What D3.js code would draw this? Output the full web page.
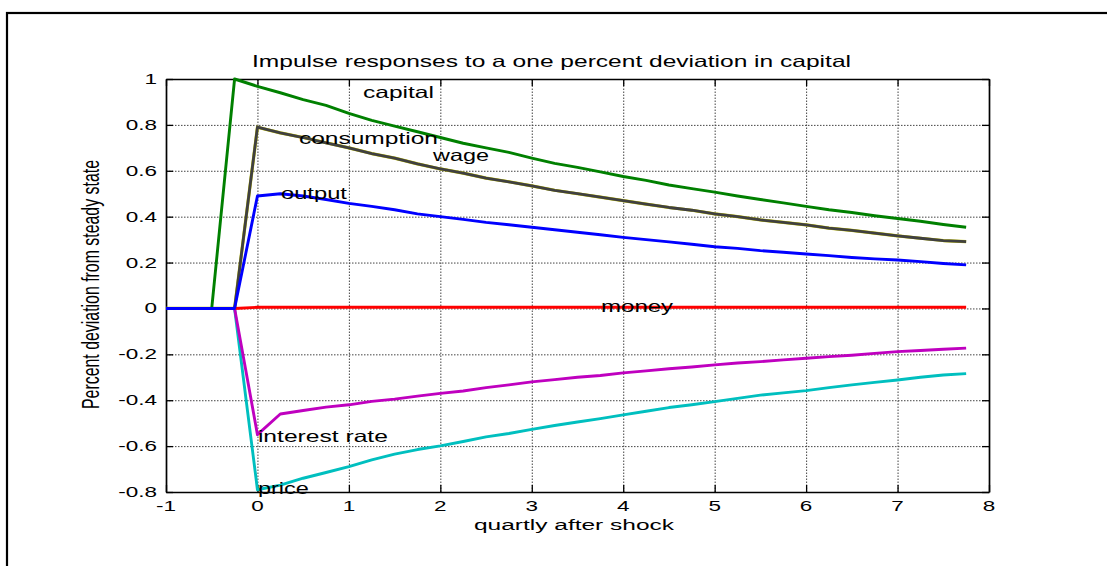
<!DOCTYPE html>
<html>
<head>
<meta charset="utf-8">
<script src="https://cdn.jsdelivr.net/npm/d3@7"></script>
<style>
  html, body { margin: 0; padding: 0; background: #fff; }
  svg { display: block; }
  text { font-family: "Liberation Sans", Arial, Helvetica, sans-serif; fill: #000; }
</style>
</head>
<body>
<svg id="chart" width="1107" height="566"></svg>
<script>
// Quarters after the shock
const quarters = [-1, -0.75, -0.5, -0.25, 0, 0.25, 0.5, 0.75, 1, 1.25, 1.5, 1.75,
  2, 2.25, 2.5, 2.75, 3, 3.25, 3.5, 3.75, 4, 4.25, 4.5, 4.75,
  5, 5.25, 5.5, 5.75, 6, 6.25, 6.5, 6.75, 7, 7.25, 7.5, 7.75];

// Responses, percent deviation from steady state
const capital = [0, 0, 0, 1.0, 0.968, 0.94, 0.91, 0.885, 0.85, 0.82, 0.795, 0.77,
  0.745, 0.72, 0.70, 0.68, 0.655, 0.632, 0.615, 0.595, 0.575, 0.558, 0.538, 0.522,
  0.507, 0.49, 0.475, 0.46, 0.445, 0.43, 0.418, 0.404, 0.392, 0.38, 0.366, 0.354];

const consumption = [0, 0, 0, 0, 0.79, 0.765, 0.745, 0.722, 0.70, 0.675, 0.655, 0.63,
  0.608, 0.59, 0.568, 0.552, 0.534, 0.515, 0.50, 0.485, 0.47, 0.455, 0.44, 0.428,
  0.412, 0.40, 0.386, 0.375, 0.364, 0.35, 0.34, 0.328, 0.316, 0.306, 0.296, 0.291];

const wage = [0, 0, 0, 0, 0.79, 0.765, 0.745, 0.722, 0.70, 0.675, 0.655, 0.63,
  0.608, 0.59, 0.568, 0.552, 0.534, 0.515, 0.50, 0.485, 0.47, 0.455, 0.44, 0.428,
  0.412, 0.40, 0.386, 0.375, 0.364, 0.35, 0.34, 0.328, 0.316, 0.306, 0.296, 0.291];

const output = [0, 0, 0, 0, 0.49, 0.50, 0.49, 0.475, 0.458, 0.445, 0.43, 0.412,
  0.40, 0.388, 0.375, 0.365, 0.354, 0.343, 0.332, 0.321, 0.31, 0.30, 0.29, 0.28,
  0.269, 0.262, 0.252, 0.245, 0.237, 0.23, 0.222, 0.216, 0.211, 0.204, 0.196, 0.19];

const money = [0, 0, 0, 0, 0.005, 0.005, 0.005, 0.005, 0.005, 0.005, 0.005, 0.005,
  0.005, 0.005, 0.005, 0.005, 0.005, 0.005, 0.005, 0.005, 0.005, 0.005, 0.005, 0.005,
  0.005, 0.005, 0.005, 0.005, 0.005, 0.005, 0.005, 0.005, 0.005, 0.005, 0.005, 0.005];

const interestRate = [0, 0, 0, 0, -0.55, -0.46, -0.445, -0.43, -0.42, -0.405, -0.395, -0.382,
  -0.37, -0.36, -0.345, -0.333, -0.32, -0.31, -0.30, -0.292, -0.281, -0.272, -0.263, -0.255,
  -0.246, -0.238, -0.232, -0.224, -0.217, -0.21, -0.204, -0.196, -0.188, -0.183, -0.178, -0.173];

const price = [0, 0, 0, 0, -0.79, -0.77, -0.74, -0.715, -0.689, -0.66, -0.635, -0.615,
  -0.599, -0.58, -0.56, -0.545, -0.527, -0.51, -0.495, -0.48, -0.464, -0.448, -0.432, -0.42,
  -0.406, -0.392, -0.378, -0.368, -0.358, -0.345, -0.333, -0.322, -0.312, -0.30, -0.29, -0.284];

// Axis ticks
const xTicks = [-1, 0, 1, 2, 3, 4, 5, 6, 7, 8];
const xTickLabels = ["-1", "0", "1", "2", "3", "4", "5", "6", "7", "8"];
const yTicks = [-0.8, -0.6, -0.4, -0.2, 0, 0.2, 0.4, 0.6, 0.8, 1];
const yTickLabels = ["-0.8", "-0.6", "-0.4", "-0.2", "0", "0.2", "0.4", "0.6", "0.8", "1"];

// Series in drawing order (last on top)
const series = [
  { name: "wage", values: wage, color: "#bfbf00", width: 3.2 },
  { name: "consumption", values: consumption, color: "#404040", width: 2.8 },
  { name: "capital", values: capital, color: "#008000", width: 2.9 },
  { name: "price", values: price, color: "#00bfbf", width: 2.9 },
  { name: "interest rate", values: interestRate, color: "#bf00bf", width: 2.9 },
  { name: "money", values: money, color: "#ff0000", width: 2.9 },
  { name: "output", values: output, color: "#0000ff", width: 2.9 }
];

// In-plot text annotations: left edge and baseline in data units, rendered width in px
const annotations = [
  { text: "capital", t: 1.154, v: 0.917, w: 71 },
  { text: "consumption", t: 0.454, v: 0.717, w: 139 },
  { text: "wage", t: 1.92, v: 0.643, w: 56 },
  { text: "output", t: 0.257, v: 0.477, w: 66 },
  { text: "money", t: 3.758, v: -0.015, w: 72 },
  { text: "interest rate", t: 0.005, v: -0.582, w: 130 },
  { text: "price", t: 0.005, v: -0.808, w: 51 }
];

const svg = d3.select("#chart");
const plot = { left: 166, right: 989, top: 79, bottom: 492 };
const x = d3.scaleLinear().domain([-1, 8]).range([plot.left, plot.right]);
const y = d3.scaleLinear().domain([-0.8, 1]).range([plot.bottom, plot.top]);
const tickStretch = 1.5;

// Figure frame
svg.append("rect")
  .attr("x", 7).attr("y", 13).attr("width", 1130).attr("height", 600)
  .attr("fill", "none").attr("stroke", "#000").attr("stroke-width", 2.2);

// Grid
const gridStyle = g => g.selectAll("line")
  .attr("stroke", "#444").attr("stroke-width", 1).attr("stroke-dasharray", "1.5,1.5");
svg.append("g")
  .attr("transform", `translate(0,${plot.bottom})`)
  .call(d3.axisBottom(x).tickValues(xTicks.slice(1, -1)).tickSize(-(plot.bottom - plot.top)).tickFormat(""))
  .call(g => g.select(".domain").remove())
  .call(gridStyle);
svg.append("g")
  .attr("transform", `translate(${plot.left},0)`)
  .call(d3.axisLeft(y).tickValues(yTicks.slice(1, -1)).tickSize(-(plot.right - plot.left)).tickFormat(""))
  .call(g => g.select(".domain").remove())
  .call(gridStyle);

// Axes box with inward ticks on all sides
const tickLen = 7;
const axisStyle = g => {
  g.selectAll("line").attr("stroke", "#000").attr("stroke-width", 1.3);
  g.select(".domain").attr("stroke", "#000").attr("stroke-width", 1.7);
};
svg.append("g").attr("transform", `translate(0,${plot.bottom})`)
  .call(d3.axisBottom(x).tickValues(xTicks).tickSizeInner(-tickLen).tickSizeOuter(0).tickFormat(""))
  .call(axisStyle);
svg.append("g").attr("transform", `translate(0,${plot.top})`)
  .call(d3.axisTop(x).tickValues(xTicks).tickSizeInner(-tickLen).tickSizeOuter(0).tickFormat(""))
  .call(axisStyle);
svg.append("g").attr("transform", `translate(${plot.left},0)`)
  .call(d3.axisLeft(y).tickValues(yTicks).tickSizeInner(-tickLen).tickSizeOuter(0).tickFormat(""))
  .call(axisStyle);
svg.append("g").attr("transform", `translate(${plot.right},0)`)
  .call(d3.axisRight(y).tickValues(yTicks).tickSizeInner(-tickLen).tickSizeOuter(0).tickFormat(""))
  .call(axisStyle);

// Tick labels
svg.append("g").selectAll("text").data(xTicks).join("text")
  .attr("transform", d => `translate(${x(d)},${plot.bottom + 19}) scale(${tickStretch},1)`)
  .attr("text-anchor", "middle")
  .style("font-size", "15px")
  .text((d, i) => xTickLabels[i]);
svg.append("g").selectAll("text").data(yTicks).join("text")
  .attr("transform", d => `translate(${plot.left - 9},${y(d) + 5}) scale(${tickStretch},1)`)
  .attr("text-anchor", "end")
  .style("font-size", "15px")
  .text((d, i) => yTickLabels[i]);

// Response lines
const line = d3.line()
  .x((d, i) => x(quarters[i]))
  .y(d => y(d));
svg.append("g").selectAll("path").data(series).join("path")
  .attr("d", s => line(s.values))
  .attr("fill", "none")
  .attr("stroke", s => s.color)
  .attr("stroke-width", s => s.width)
  .attr("stroke-linejoin", "round");

// Line annotations
svg.append("g").selectAll("text").data(annotations).join("text")
  .attr("x", a => x(a.t))
  .attr("y", a => y(a.v))
  .attr("textLength", a => a.w)
  .attr("lengthAdjust", "spacingAndGlyphs")
  .style("font-size", "16.5px")
  .text(a => a.text);

// Title and axis labels
svg.append("text")
  .attr("x", 252).attr("y", 67)
  .attr("textLength", 599).attr("lengthAdjust", "spacingAndGlyphs")
  .style("font-size", "16.5px")
  .text("Impulse responses to a one percent deviation in capital");
svg.append("text")
  .attr("x", 474).attr("y", 530)
  .attr("textLength", 200).attr("lengthAdjust", "spacingAndGlyphs")
  .style("font-size", "15.5px")
  .text("quartly after shock");
svg.append("text")
  .attr("transform", "translate(99,284.5) scale(1.55,1) rotate(-90)")
  .attr("text-anchor", "middle")
  .style("font-size", "15.9px")
  .text("Percent deviation from steady state");
</script>
</body>
</html>
